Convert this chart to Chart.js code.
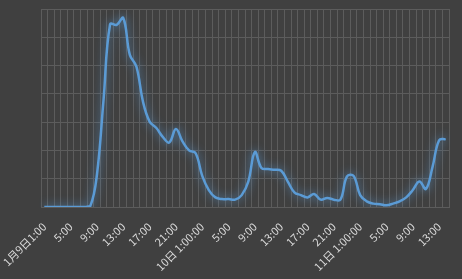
<!DOCTYPE html>
<html>
<head>
<meta charset="utf-8">
<script src="https://cdn.jsdelivr.net/npm/chart.js@4/dist/chart.umd.min.js"></script>
<style>
  html, body { margin: 0; padding: 0; background: #404040; }
  #wrap { width: 462px; height: 279px; }
</style>
</head>
<body>
<div id="wrap"><canvas id="lineChart" width="462" height="279"></canvas></div>
<script>
// hourly categories, 1/9 1:00 -> 1/11 14:00
const categories = [
  '1/9 1:00','2:00','3:00','4:00','5:00','6:00','7:00','8:00','9:00','10:00','11:00','12:00',
  '13:00','14:00','15:00','16:00','17:00','18:00','19:00','20:00','21:00','22:00','23:00',
  '1/10 0:00','1:00','2:00','3:00','4:00','5:00','6:00','7:00','8:00','9:00','10:00','11:00','12:00',
  '13:00','14:00','15:00','16:00','17:00','18:00','19:00','20:00','21:00','22:00','23:00',
  '1/11 0:00','1:00','2:00','3:00','4:00','5:00','6:00','7:00','8:00','9:00','10:00','11:00','12:00',
  '13:00','14:00'
];

// values
const values = [
  0, 0, 0, 0, 0, 0, 0, 2, 57, 189, 323, 322, 334, 269, 248, 186, 151, 140, 124, 114,
  138, 116, 100, 95, 55, 30, 17, 14, 14, 13, 21, 45, 97, 69, 67, 66, 64, 45, 26, 21,
  17, 23, 13, 16, 13, 13, 54, 55, 21, 10, 6, 5, 3, 6, 10, 17, 30, 45, 32, 71,
  118, 120
];

// axis labels, shown every 4th hour
const tickLabels = [
  '1月9日1:00', '5:00', '9:00', '13:00', '17:00', '21:00', '10日 1:00:00', '5:00',
  '9:00', '13:00', '17:00', '21:00', '11日 1:00:00', '5:00', '9:00', '13:00'
];
const labelEvery = 4;

const yMax = 350;
const yStep = 50;

// soft glow round the line
const glowPlugin = {
  id: 'glow',
  beforeDatasetsDraw(chart) {
    const ctx = chart.ctx;
    ctx.save();
    ctx.shadowColor = 'rgba(91, 155, 213, 0.9)';
    ctx.shadowBlur = 10;
  },
  afterDatasetsDraw(chart) {
    chart.ctx.restore();
  }
};

const gridColor = '#5c5c5c';

const ctx = document.getElementById('lineChart').getContext('2d');
const myChart = new Chart(ctx, {
  type: 'line',
  data: {
    labels: categories,
    datasets: [{
      data: values,
      borderColor: '#5b9bd5',
      borderWidth: 2.5,
      pointRadius: 0,
      tension: 0.4,
      fill: false
    }]
  },
  options: {
    responsive: false,
    animation: false,
    layout: { padding: { top: 9, right: 13, left: 0, bottom: 0 } },
    plugins: {
      legend: { display: false },
      tooltip: { enabled: false }
    },
    scales: {
      x: {
        offset: true,
        grid: { color: gridColor, offset: true, drawTicks: false, lineWidth: 1 },
        border: { color: gridColor },
        ticks: {
          autoSkip: false,
          maxRotation: 45,
          minRotation: 45,
          padding: 13,
          color: '#d9d9d9',
          font: { family: '"Noto Sans CJK JP", "Noto Sans", sans-serif', size: 11 },
          callback: (v, i) => (i % labelEvery === 0 ? tickLabels[i / labelEvery] : '')
        },
        afterFit: (scale) => {
          scale.height = 72;
          scale.paddingLeft = 0;
          scale.paddingRight = 0;
        }
      },
      y: {
        min: 0,
        max: yMax,
        grid: { color: gridColor, drawTicks: false },
        border: { color: gridColor },
        ticks: { display: false, stepSize: yStep },
        afterFit: (scale) => { scale.width = 41; }
      }
    }
  },
  plugins: [glowPlugin]
});
</script>
</body>
</html>
